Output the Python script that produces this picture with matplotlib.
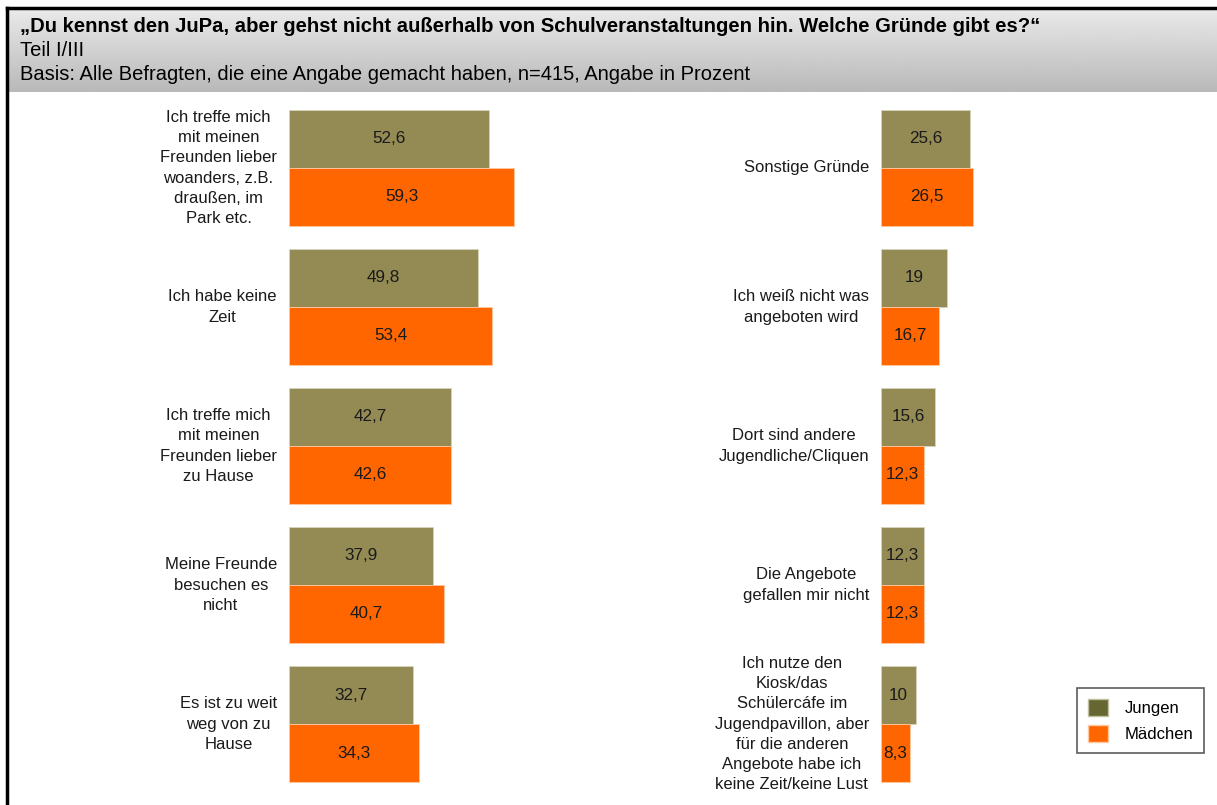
import matplotlib.pyplot as plt
import numpy as np
from matplotlib.lines import Line2D
from matplotlib.patches import Patch

plt.rcParams['font.family'] = ['Liberation Sans', 'DejaVu Sans']

title = "\u201eDu kennst den JuPa, aber gehst nicht au\u00dferhalb von Schulveranstaltungen hin. Welche Gr\u00fcnde gibt es?\u201c"
subtitle1 = "Teil I/III"
subtitle2 = "Basis: Alle Befragten, die eine Angabe gemacht haben, n=415, Angabe in Prozent"

labels_left = [
    "Ich treffe mich\nmit meinen\nFreunden lieber\nwoanders, z.B.\ndrau\u00dfen, im\nPark etc.",
    "Ich habe keine\nZeit",
    "Ich treffe mich\nmit meinen\nFreunden lieber\nzu Hause",
    "Meine Freunde\nbesuchen es\nnicht",
    "Es ist zu weit\nweg von zu\nHause",
]
jungen_left = [52.6, 49.8, 42.7, 37.9, 32.7]
maedchen_left = [59.3, 53.4, 42.6, 40.7, 34.3]

labels_right = [
    "Sonstige Gr\u00fcnde",
    "Ich wei\u00df nicht was\nangeboten wird",
    "Dort sind andere\nJugendliche/Cliquen",
    "Die Angebote\ngefallen mir nicht",
    "Ich nutze den\nKiosk/das\nSch\u00fclerc\u00e1fe im\nJugendpavillon, aber\nf\u00fcr die anderen\nAngebote habe ich\nkeine Zeit/keine Lust",
]
jungen_right = [25.6, 19, 15.6, 12.3, 10]
maedchen_right = [26.5, 16.7, 12.3, 12.3, 8.3]

OLIVE = "#948a54"
OLIVE_DARK = "#666633"
ORANGE = "#ff6600"

W, H = 1217, 805
fig = plt.figure(figsize=(W / 100, H / 100), dpi=100)


def px_box(x0, y0, x1, y1):
    # pixel box (top-left origin) -> figure fraction rect
    return [x0 / W, 1 - y1 / H, (x1 - x0) / W, (y1 - y0) / H]


# grey header band
hdr = fig.add_axes(px_box(8, 9, W, 92))
grad = np.linspace(0.915, 0.725, 100).reshape(-1, 1)
hdr.imshow(grad, aspect='auto', cmap='gray', vmin=0, vmax=1, extent=[0, 1, 0, 1])
hdr.set_axis_off()

# frame lines
fig.add_artist(Line2D([7 / W, 7 / W], [0, 1 - 8 / H], color='black', lw=2.5))
fig.add_artist(Line2D([7 / W, 1], [1 - 8 / H, 1 - 8 / H], color='black', lw=2.5))

fig.text(20 / W, 1 - 27 / H, title, fontsize=14.6, fontweight='bold', va='center', ha='left')
fig.text(20 / W, 1 - 51 / H, subtitle1, fontsize=14.5, va='center', ha='left')
fig.text(20 / W, 1 - 75 / H, subtitle2, fontsize=14.5, va='center', ha='left')

# one group per 139 px; group 0 centre at y=168 px
top_px, bot_px, row0, step = 100, 800, 168, 139
ylim = ((bot_px - row0) / step, (top_px - row0) / step)
bar_h = 58 / step


def panel(x0, px_per_unit, labels, jungen, maedchen):
    width_px = 320
    ax = fig.add_axes(px_box(x0, top_px, x0 + width_px, bot_px))
    ax.set_xlim(0, width_px / px_per_unit)
    ax.set_ylim(*ylim)
    y = np.arange(len(labels))
    b1 = ax.barh(y - bar_h / 2, jungen, height=bar_h, color=OLIVE, edgecolor='#d8d4bc', lw=0.6)
    b2 = ax.barh(y + bar_h / 2, maedchen, height=bar_h, color=ORANGE, edgecolor='#ffc8a0', lw=0.6)
    for bars, vals in ((b1, jungen), (b2, maedchen)):
        for bar, v in zip(bars, vals):
            txt = f"{v:g}".replace('.', ',')
            ax.text(v / 2, bar.get_y() + bar.get_height() / 2, txt,
                    ha='center', va='center', fontsize=12.3, color='#1a1a1a')
    for yi, lab in zip(y, labels):
        ax.text(-12 / px_per_unit, yi, lab, ha='right', va='center', ma='center',
                fontsize=12, color='#1a1a1a', linespacing=1.42)
    ax.set_axis_off()
    return ax


panel(289, 3.80, labels_left, jungen_left, maedchen_left)
panel(881, 3.47, labels_right, jungen_right, maedchen_right)

handles = [Patch(facecolor=OLIVE_DARK, edgecolor='#c0c0a0'), Patch(facecolor=ORANGE, edgecolor='#ffc8a0')]
leg = fig.legend(handles, ["Jungen", "M\u00e4dchen"], loc='upper left',
                 bbox_to_anchor=(1077 / W, 1 - 688 / H), fontsize=12,
                 frameon=True, fancybox=False, edgecolor='#333333',
                 handlelength=1.2, handleheight=1.2, borderpad=0.65,
                 labelspacing=0.55, handletextpad=1.0, borderaxespad=0)
leg.get_frame().set_linewidth(1.2)

fig.savefig("out.png", dpi=100)
